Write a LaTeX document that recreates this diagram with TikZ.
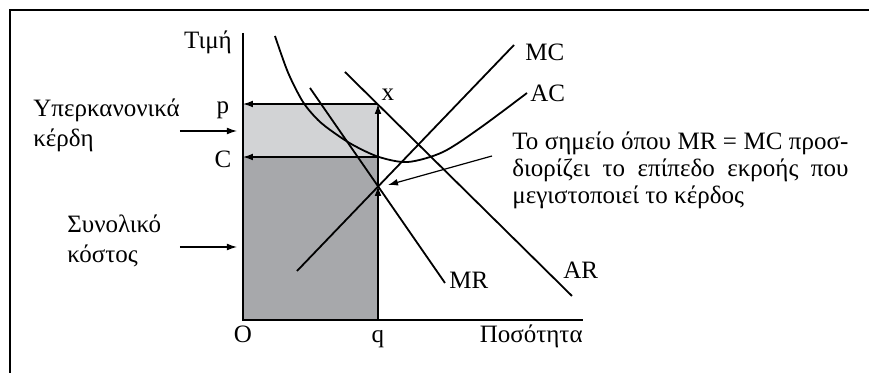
\documentclass[tikz,border=0pt]{standalone}
\usepackage{fontspec}
\setmainfont{Liberation Serif}
\usetikzlibrary{arrows.meta,positioning}
\definecolor{lightshade}{RGB}{210,211,213}
\definecolor{darkshade}{RGB}{167,168,171}
\tikzset{
  curve/.style={line width=0.9pt},
  axis/.style={line width=0.6pt},
  pointer/.style={line width=0.6pt,-{Latex[length=5pt,width=3.4pt]}},
  lbl/.style={font=\fontsize{12.5}{15}\selectfont,inner sep=0pt},
}
\begin{document}
\begin{tikzpicture}[x=25pt,y=25pt]
\useasboundingbox (-4.86,-1.06) rectangle (12.52,6.4);
\draw[line width=1pt] (-4.66,-1.06) -- (-4.66,6.2) -- (12.52,6.2);
\coordinate (O) at (0,0);
\coordinate (q) at (2.7,0);
\coordinate (c) at (0,3.26);
\coordinate (p) at (0,4.32);
\coordinate (cq) at (2.7,3.26);
\coordinate (x) at (2.7,4.32);
\coordinate (e) at (2.7,2.68);
\fill[darkshade] (O) rectangle (cq);
\fill[lightshade] (c) rectangle (x);
\draw[axis] (0,5.74) -- (O) -- (6.8,0) coordinate (xend);
\draw[pointer] (x) -- (p);
\draw[pointer] (cq) -- (c);
\draw[pointer] (q) -- (e);
\draw[pointer] (e) -- (x);
\draw[curve] (1.08,0.98) -- (5.42,5.5);
\draw[curve] (1.34,4.64) -- (4.04,0.74);
\draw[curve] (2.04,4.96) -- (6.58,0.48);
\draw[curve] plot[smooth] coordinates {(0.64,5.68) (0.9,4.95) (1.2,4.36) (1.5,4.0) (1.8,3.76) (2.2,3.5) (2.72,3.26) (3.3,3.16) (4.0,3.36) (4.74,3.84) (5.68,4.54)};
\node[lbl] (price) at (-0.7,5.56) {Τιμή};
\node[lbl] (plabel) at (-0.4,4.2) {p};
\node[lbl] (clabel) at (-0.4,3.22) {C};
\node[lbl,anchor=base] (olabel) at (0,-0.46) {O};
\node[lbl,anchor=base] (qlabel) at (2.7,-0.46) {q};
\node[lbl,anchor=base east] (quantity) at (6.8,-0.46) {Ποσότητα};
\node[lbl] (xlabel) at (2.9,4.5) {x};
\node[lbl,anchor=west] (mclabel) at (5.64,5.36) {MC};
\node[lbl,anchor=west] (aclabel) at (5.74,4.54) {AC};
\node[lbl,anchor=west] (mrlabel) at (4.12,0.8) {MR};
\node[lbl,anchor=west] (arlabel) at (6.4,1.0) {AR};
\node[lbl,anchor=west,align=left] (profit) at (-4.2,3.9) {Υπερκανονικά\\κέρδη};
\node[lbl,anchor=west,align=left] (cost) at (-3.52,1.58) {Συνολικό\\κόστος};
\node[lbl,anchor=west,text width=168pt,align=justify,font=\fontsize{12.5}{13.5}\selectfont] (note) at (5.38,3.0)
  {Το σημείο όπου MR = MC προσ-\linebreak διορίζει το επίπεδο εκροής που\linebreak μεγιστοποιεί το κέρδος};
\coordinate (profitfrom) at (-1.26,3.78);
\coordinate (profitto) at (-0.12,3.78);
\coordinate (costfrom) at (-1.26,1.46);
\coordinate (costto) at (-0.12,1.46);
\coordinate (notefrom) at (4.98,3.28);
\coordinate (noteto) at (2.9,2.7);
\draw[pointer] (profitfrom) -- (profitto);
\draw[pointer] (costfrom) -- (costto);
\draw[pointer] (notefrom) -- (noteto);
\end{tikzpicture}
\end{document}
